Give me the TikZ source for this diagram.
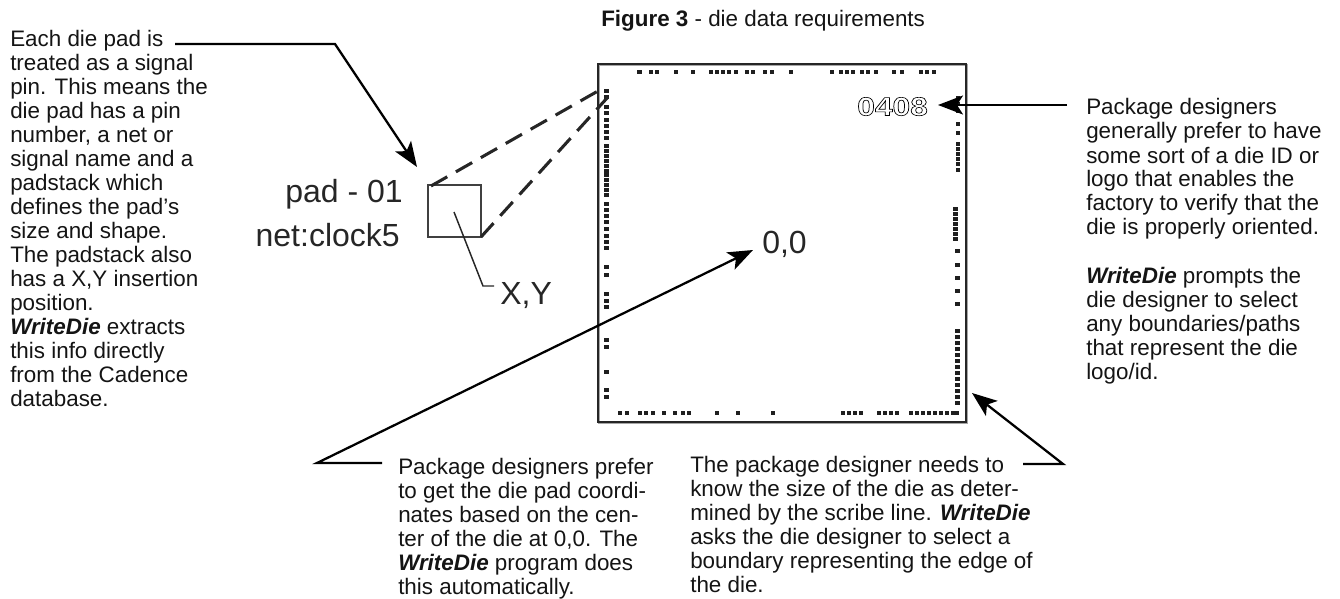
\documentclass[tikz,border=0pt]{standalone}
\usepackage{fontspec}
\setmainfont{Liberation Sans}
\usetikzlibrary{arrows.meta}
\newcommand{\wdie}{\textbf{\textit{WriteDie}}}
\newcommand{\bodyfont}{\fontsize{16.8}{18}\selectfont}
\tikzset{
  x=0.75pt,y=-0.75pt,
  body/.style={anchor=base west,inner sep=0pt,align=left,font=\bodyfont,text=black!92},
  biglabel/.style={anchor=base west,inner sep=0pt,font=\fontsize{24}{26}\selectfont,text=black!85},
  leadarrow/.style={line width=1.7pt,black,-{Stealth[length=25*0.75pt,width=19*0.75pt,inset=6*0.75pt]}},
  dashedlead/.style={line width=2.3pt,black!85,dash pattern=on 14pt off 7.5pt},
  pinbox/.style={line width=0.9pt,black!75},
  padfill/.style={fill=black!88}
}
\begin{document}
\begin{tikzpicture}
\useasboundingbox (0,0) rectangle (1340,599);
% die
\draw[line width=1.6pt,black!35] (599,65) rectangle (967,423);
\draw[line width=1pt,black!85] (598,64) rectangle (966,422);
% pads
\foreach \x in {639.5,651,657,676,693,711,717,723,729,736,747,753,765,772,791,832,841,847,853,862,868,876,894,902,921,927,934}
  \fill[padfill] (\x-2.4,69.6) rectangle ++(4.8,4.8);
\foreach \y in {91,97,107,113,120,126,132,138,146,151,156,161,166,171,175,180,185,190,195,204,210,216,222,229,236,242,248,267,275,294,301,307,340,347,372,390,397}
  \fill[padfill] (604.1,\y-2.4) rectangle ++(4.8,4.8);
\foreach \y in {98,104,111,124,133,144,149,154,159,164,170}
  \fill[padfill] (955.6,\y-2.4) rectangle ++(4.8,4.8);
\foreach \y in {209,214,219,224,229,234,239}
  \fill[padfill] (953.1,\y-2.4) rectangle ++(4.8,4.8);
\foreach \y in {251,265,278,291,304,331,337,343,349,355,361,367,373,379,385,391,397,403}
  \fill[padfill] (955.1,\y-2.4) rectangle ++(4.8,4.8);
\foreach \x in {620,627,640,646,653,664,675,683,689,717,738,773,843,849,855,861,879,885,891,897,911,917,923,929,935,941,947,953,957}
  \fill[padfill] (\x-2.4,410.6) rectangle ++(4.8,4.8);
% logo
\node[anchor=base west,inner sep=0pt] (logo) at (857,115.5) {\special{pdf:literal 1 Tr 0.45 w}\scalebox{1.22}[1]{\fontsize{19.5}{20}\selectfont\bfseries 0408}\special{pdf:literal 0 Tr}};
% title
\node[anchor=base west,inner sep=0pt,font=\bodyfont,text=black!92] (title) at (601,27) {\textbf{Figure 3} - die data requirements};
% text blocks
\node[body] (t1) at (10,406) {Each die pad is\\treated as a signal\\pin. This means the\\die pad has a pin\\number, a net or\\signal name and a\\padstack which\\defines the pad’s\\size and shape.\\The padstack also\\has a X,Y insertion\\position.\\\wdie{} extracts\\this info directly\\from the Cadence\\database.};
\node[body] (t2) at (398,594) {Package designers prefer\\to get the die pad coordi-\\nates based on the cen-\\ter of the die at 0,0. The\\\wdie{} program does\\this automatically.};
\node[body] (t3) at (690,592) {The package designer needs to\\know the size of the die as deter-\\mined by the scribe line. \wdie{}\\asks the die designer to select a\\boundary representing the edge of\\the die.};
\node[body] (t4) at (1086,235) {Package designers\\generally prefer to have\\some sort of a die ID or\\logo that enables the\\factory to verify that the\\die is properly oriented.};
\node[body] (t5) at (1086,379) {\wdie{} prompts the\\die designer to select\\any boundaries/paths\\that represent the die\\logo/id.};
% pad
\node[biglabel,anchor=base east] (padl) at (403,203) {pad - 01};
\node[biglabel,anchor=base east] (netl) at (400,247) {net:clock5};
\node[biglabel] (xyl) at (500,305) {X,Y};
\node[biglabel] (zero) at (762,253) {0,0};
\coordinate (sqa) at (428,185);
\coordinate (sqb) at (481,237);
\draw[pinbox] (sqa) rectangle (sqb);
% connectors
\coordinate (c1s) at (175,44); \coordinate (c1m) at (335,44); \coordinate (c1e) at (417,167);
\draw[leadarrow] (c1s) -- (c1m) -- (c1e);
\coordinate (d1a) at (431,186); \coordinate (d1b) at (598,91);
\coordinate (d2a) at (481,237); \coordinate (d2b) at (608,97);
\draw[dashedlead] (d1a) -- (d1b);
\draw[dashedlead] (d2a) -- (d2b);
\coordinate (xa) at (454,212); \coordinate (xb) at (483,286); \coordinate (xc) at (494,286);
\draw[pinbox,line width=1.1pt,black!85] (xa) -- (xb) -- (xc);
\coordinate (c2s) at (382,463); \coordinate (c2m) at (317,463); \coordinate (c2e) at (753,250);
\draw[leadarrow] (c2s) -- (c2m) -- (c2e);
\coordinate (c3s) at (1067,105); \coordinate (c3e) at (938,105);
\draw[leadarrow] (c3s) -- (c3e);
\coordinate (c4s) at (1023,464); \coordinate (c4m) at (1063,464); \coordinate (c4e) at (972,393);
\draw[leadarrow] (c4s) -- (c4m) -- (c4e);
\end{tikzpicture}
\end{document}
